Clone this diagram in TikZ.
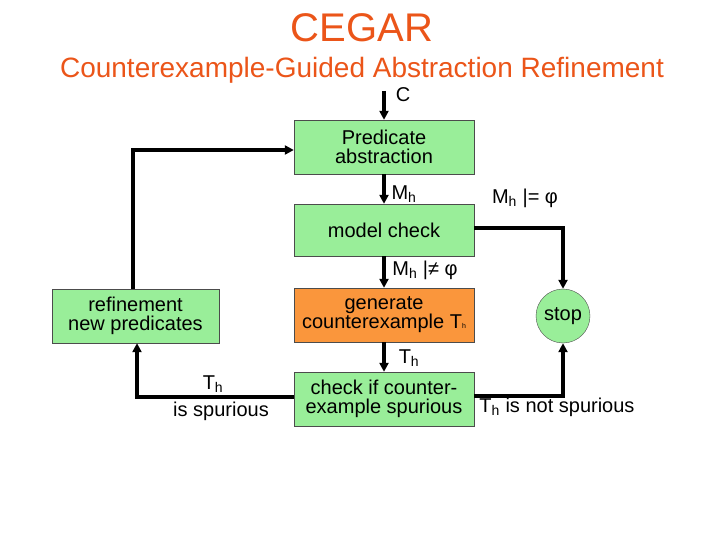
\documentclass[tikz,border=0pt]{standalone}
\usepackage{fontspec}
\setmainfont{Liberation Sans}
\usetikzlibrary{arrows.meta}
\definecolor{boxg}{RGB}{153,238,153}
\definecolor{boxo}{RGB}{250,150,60}
\definecolor{titleo}{RGB}{235,85,25}
\begin{document}
\begin{tikzpicture}[x=1pt,y=-1pt,
  box/.style={draw=black!70,fill=boxg,minimum width=180pt,minimum height=54pt,align=center,font=\fontsize{20}{19}\selectfont,inner sep=1pt},
  arr/.style={line width=4pt,-{Triangle[length=9pt,width=9pt]}},
  lbl/.style={font=\fontsize{20}{20}\selectfont,inner sep=0pt}]
\useasboundingbox (0,0) rectangle (720,540);
\node[font=\fontsize{40}{40}\selectfont,text=titleo] (t) at (362,28) {CEGAR};
\node[font=\fontsize{28}{28}\selectfont,text=titleo] (st) at (362,70) {Counterexample-Guided Abstraction Refinement};
\node[box] (pa) at (384,147) {Predicate\\abstraction};
\node[box,minimum height=52pt] (mc) at (384,230) {model check};
\node[box,fill=boxo] (gc) at (384,315) {generate\\counterexample T{\fontsize{7}{7}\selectfont h}};
\node[box] (ck) at (384,399) {check if counter-\\example spurious};
\node[box,minimum width=167pt] (rf) at (135.5,316) {refinement\\new predicates};
\node[draw=black!70,fill=boxg,circle,minimum size=54pt,inner sep=0pt,font=\fontsize{20}{20}\selectfont] (stop) at (563,316) {stop};
\coordinate (cin) at (384,91);
\draw[arr] (cin) -- (pa.north);
\node[lbl] (lc) at (403,95) {C};
\draw[arr] (pa) -- (mc);
\draw[arr] (mc) -- (gc);
\draw[arr] (gc) -- (ck);
\draw[arr] (rf.north -| 133,0) |- (pa.west |- 0,150);
\draw[arr] (ck.west |- 0,397) -| (rf.south -| 137,0);
\draw[arr] (mc.east |- 0,228) -| (stop.north);
\draw[arr] (ck.east |- 0,396) -| (stop.south);
\node[lbl] (l1) at (404,194) {M\textsubscript{h}};
\node[lbl] (l2) at (525,198) {M\textsubscript{h} |= φ};
\node[lbl] (l3) at (425,270) {M\textsubscript{h} |≠ φ};
\node[lbl] (l4) at (409,358) {T\textsubscript{h}};
\node[lbl] (l5) at (213,384) {T\textsubscript{h}};
\node[lbl] (l6) at (221,411) {is spurious};
\node[lbl] (l7) at (557,407) {T\textsubscript{h} is not spurious};
\end{tikzpicture}
\end{document}
